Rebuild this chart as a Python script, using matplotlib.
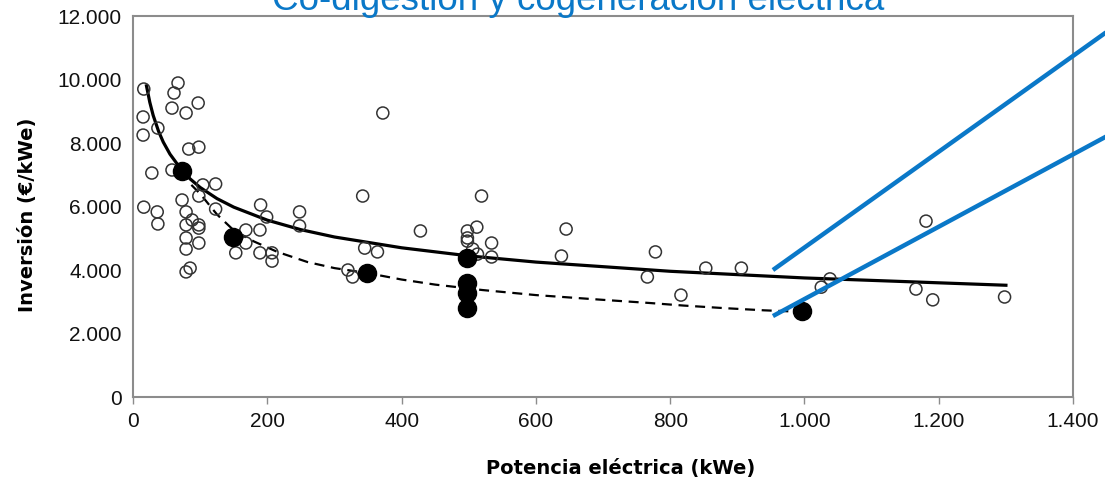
import numpy as np
import matplotlib
matplotlib.use('Agg')
import matplotlib.pyplot as plt
from matplotlib.ticker import FuncFormatter, MultipleLocator

# open circles: individual plants (kWe, EUR/kWe)
plant_kwe = [16, 15, 15, 37, 67, 61, 58, 79, 97, 83, 98, 28, 58, 104, 123,
             73, 98, 123, 16, 36, 37, 79, 79, 88, 98, 98, 79, 98, 79, 79, 85,
             190, 199, 248, 248, 168, 189, 168, 153, 189, 207, 207,
             342, 372, 345, 364, 320, 327,
             428, 519, 512, 498, 498, 498, 506, 513, 534, 534, 645, 638,
             778, 766, 853, 906, 816, 1025, 1038, 1181, 1166, 1191, 1298]
plant_inv = [9700, 8820, 8250, 8470, 9890, 9575, 9100, 8945, 9260, 7810, 7870,
             7055, 7150, 6680, 6710, 6205, 6330, 5920, 5980, 5830, 5450, 5830,
             5420, 5575, 5420, 5320, 5010, 4850, 4660, 3940, 4060,
             6050, 5670, 5830, 5390, 5260, 5260, 4850, 4540, 4540, 4540, 4280,
             6330, 8945, 4690, 4570, 4000, 3780,
             5230, 6330, 5350, 5230, 5010, 4910, 4660, 4500, 4850, 4410, 5290, 4440,
             4570, 3780, 4060, 4060, 3210, 3460, 3720, 5540, 3400, 3060, 3150]

# filled dots: reference cases
ref_kwe = [73, 149, 348, 498, 498, 498, 498, 996]
ref_inv = [7120, 5040, 3900, 4380, 3590, 3280, 2800, 2710]

# solid trend (all plants)
trend_kwe = [20, 25, 30, 38, 45, 55, 72, 85, 100, 125, 150, 200, 250, 300,
             400, 500, 600, 800, 1000, 1300]
trend_inv = [9800, 9280, 8870, 8370, 8030, 7650, 7160, 6870, 6600, 6250,
             5980, 5570, 5270, 5040, 4700, 4445, 4250, 3960, 3750, 3520]

# dashed trend (reference cases)
dash_kwe = [72, 85, 100, 125, 150, 180, 215, 260, 300, 350, 400, 450, 520,
            600, 700, 770, 820, 880, 940, 1000]
dash_inv = [7100, 6720, 6400, 5750, 5250, 4900, 4570, 4250, 4060, 3900, 3700,
            3540, 3370, 3210, 3060, 2960, 2880, 2800, 2730, 2680]

# blue highlight lines (start / end points)
blue_top_kwe = [953, 1470]
blue_top_inv = [4000, 11800]
blue_low_kwe = [953, 1470]
blue_low_inv = [2550, 8440]

TITLE = 'Co-digestión y cogeneración eléctrica'
BLUE = '#0a78c8'
GRID_GREY = '#8c8c8c'


def thousands(v, pos):
    return f'{v:,.0f}'.replace(',', '.')


def main():
    plt.rcParams.update({'font.family': 'Liberation Sans'})
    fig = plt.figure(figsize=(11.05, 4.87), dpi=100)
    ax = fig.add_axes([0.1204, 0.1848, 0.8507, 0.7823])

    ax.plot(trend_kwe, trend_inv, color='black', lw=2.3, zorder=3)
    ax.plot(dash_kwe, dash_inv, color='black', lw=1.6, ls=(0, (4.5, 3)), zorder=3)
    ax.scatter(plant_kwe, plant_inv, s=75, facecolors='none',
               edgecolors='#333333', linewidths=1.1, zorder=4)
    ax.scatter(ref_kwe, ref_inv, s=170, color='black', zorder=5)

    for xs, ys in ((blue_top_kwe, blue_top_inv), (blue_low_kwe, blue_low_inv)):
        ax.plot(xs, ys, color=BLUE, lw=3.2, clip_on=False, zorder=6,
                solid_capstyle='butt')

    ax.set_xlim(0, 1400)
    ax.set_ylim(0, 12000)
    ax.xaxis.set_major_locator(MultipleLocator(200))
    ax.yaxis.set_major_locator(MultipleLocator(2000))
    ax.xaxis.set_major_formatter(FuncFormatter(thousands))
    ax.yaxis.set_major_formatter(FuncFormatter(thousands))

    for s in ax.spines.values():
        s.set_color(GRID_GREY)
        s.set_linewidth(1.5)
    ax.tick_params(axis='x', length=5, width=1, color=GRID_GREY, pad=6,
                   labelsize=15, labelcolor='#111111')
    ax.tick_params(axis='y', length=0, pad=8, labelsize=15, labelcolor='#111111')

    ax.set_xlabel('Potencia eléctrica (kWe)', family='DejaVu Sans',
                  fontweight='bold', fontsize=14)
    ax.xaxis.set_label_coords(0.519, -0.163)
    ax.set_ylabel('Inversión (€/kWe)', family='DejaVu Sans',
                  fontweight='bold', fontsize=14)
    ax.yaxis.set_label_coords(-0.102, 0.478)

    # title sits partly above the top edge, as in the source slide
    fig.text(0.523, 0.979, TITLE, color=BLUE, fontsize=26.5, ha='center',
             va='baseline')

    fig.savefig('out.png', dpi=100)


if __name__ == '__main__':
    main()
